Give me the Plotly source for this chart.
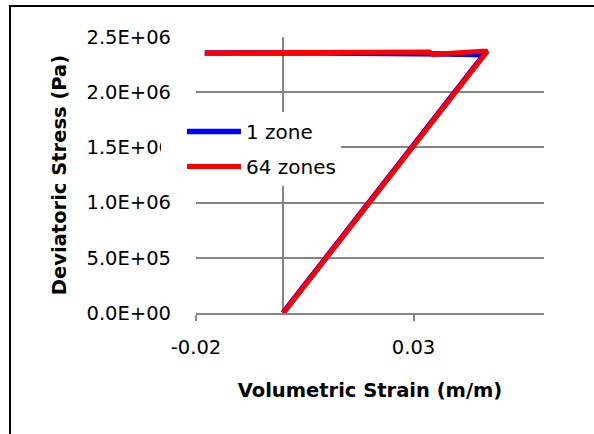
import plotly.graph_objects as go

# ---- data ----
zone1_strain = [0.0, 0.0462, 0.0380, 0.0300, 0.0100, -0.0100, -0.0180]
zone1_stress = [0.0, 2.340e6, 2.345e6, 2.349e6, 2.354e6, 2.356e6, 2.356e6]

zone64_strain = [0.0001, 0.0470, 0.0458, 0.0383, 0.0353, 0.0344, 0.0337, 0.0300, 0.0200, 0.0100, -0.0100, -0.0180]
zone64_stress = [0.0, 2.372e6, 2.372e6, 2.351e6, 2.342e6, 2.342e6, 2.363e6, 2.362e6, 2.360e6, 2.358e6, 2.356e6, 2.356e6]

series_names = ["1 zone", "64 zones"]

x_tickvals = [-0.02, 0.03]
x_ticktext = ["-0.02", "0.03"]
y_tickvals = [0, 5e5, 1e6, 1.5e6, 2e6, 2.5e6]
y_ticktext = ["0.0E+00", "5.0E+05", "1.0E+06", "1.5E+06", "2.0E+06", "2.5E+06"]

FONT = "DejaVu Sans"
GRID = "#858585"

fig = go.Figure()
fig.add_trace(go.Scatter(x=zone1_strain, y=zone1_stress, mode="lines", name=series_names[0],
                         legendgroup="a",
                         line=dict(color="#0000ff", width=5.5)))
fig.add_trace(go.Scatter(x=zone64_strain, y=zone64_stress, mode="lines", name=series_names[1],
                         legendgroup="b",
                         line=dict(color="#ff0000", width=5)))

# outer chart border (extends past the window to the right and bottom)
fig.add_shape(type="rect", xref="paper", yref="paper",
              x0=(10 - 196) / 348, x1=(600 - 196) / 348,
              y0=(313 - 445) / 276, y1=(313 - 6) / 276,
              line=dict(color="black", width=2), fillcolor="rgba(0,0,0,0)", layer="below")

fig.update_layout(
    width=594, height=434,
    margin=dict(l=196, r=50, t=37, b=121),
    paper_bgcolor="white", plot_bgcolor="white",
    font=dict(family=FONT, size=19.5, color="black"),
    showlegend=True,
    legend=dict(x=(161 - 196) / 348, y=(313 - 112) / 276, xanchor="left", yanchor="top",
                bgcolor="white", borderwidth=0, font=dict(family=FONT, size=20, color="black"),
                itemwidth=54, indentation=21, tracegroupgap=6, traceorder="grouped"),
    xaxis=dict(range=[-0.02, 0.06], tickvals=x_tickvals, ticktext=x_ticktext,
               showgrid=False, zeroline=True, zerolinecolor=GRID, zerolinewidth=1.5,
               showline=True, linecolor=GRID, linewidth=1.5,
               ticks="outside", ticklen=6, tickcolor=GRID, tickwidth=1.5,
               ticklabelstandoff=10,
               tickfont=dict(family=FONT, size=19.5, color="black"),
               title=dict(text="Volumetric Strain (m/m)", standoff=25,
                          font=dict(family=FONT, size=19.5, color="black", weight="bold"))),
    yaxis=dict(range=[0, 2.5e6], tickvals=y_tickvals, ticktext=y_ticktext,
               showgrid=True, gridcolor=GRID, gridwidth=1.5, zeroline=False,
               showline=False, ticks="",
               ticklabelstandoff=24,
               tickfont=dict(family=FONT, size=19.5, color="black"),
               title=dict(text="Deviatoric Stress (Pa)", standoff=14,
                          font=dict(family=FONT, size=19.5, color="black", weight="bold"))),
)

fig.write_html("out.html", config={"displayModeBar": False})
